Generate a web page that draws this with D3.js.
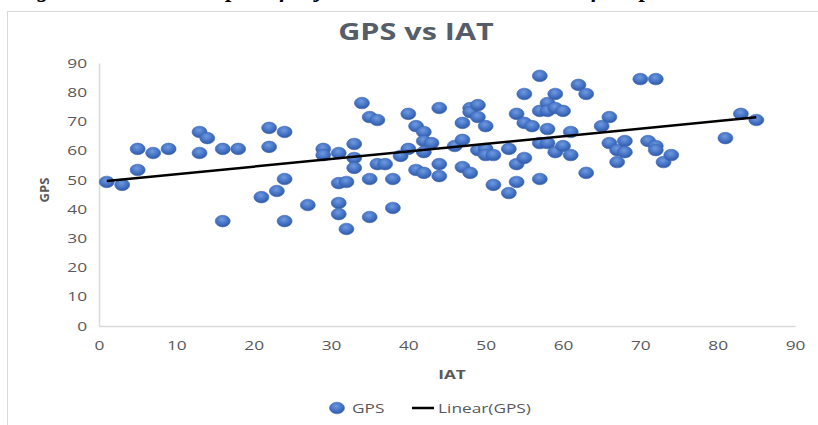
<!DOCTYPE html>
<html><head><meta charset="utf-8">
<script src="https://cdn.jsdelivr.net/npm/d3@7"></script>
<style>
html,body{margin:0;padding:0;background:#fff;overflow:hidden;}
svg{display:block;}
text{font-family:"Open Sans",sans-serif;}
</style></head>
<body><svg id="c" width="818" height="425"></svg>
<script>
const iat = [1,3,5,5,7,9,13,14,13,16,18,16,22,22,24,21,23,24,24,27,29,29,31,31,31,31,32,32,33,33,33,34,35,36,35,35,36,37,38,38,39,40,40,41,42,42,43,42,41,42,44,44,44,46,47,47,48,48,49,49,50,47,48,49,50,50,51,51,53,53,54,54,54,55,55,55,56,57,57,57,57,58,58,58,58,59,59,59,60,60,61,61,62,63,63,65,66,66,67,67,68,68,70,72,71,72,72,73,74,81,83,85];
const gps = [49.3,48.3,53.4,60.6,59.2,60.6,66.4,64.3,59.2,60.6,60.6,35.9,67.8,61.3,66.4,44.1,46.2,50.3,35.9,41.4,60.6,58.5,59.2,48.9,42.1,38.3,49.3,33.2,62.3,57.5,54.1,76.3,71.5,70.5,50.3,37.3,55.4,55.4,50.3,40.4,58.2,60.6,72.6,68.4,66.4,63.3,62.6,59.5,53.4,52.4,74.6,55.4,51.3,61.6,63.7,69.5,74.6,73.2,75.6,71.5,68.4,54.4,52.4,60.2,60.6,58.5,58.5,48.3,45.5,60.6,72.6,55.4,49.3,57.5,79.4,69.5,68.4,85.6,73.6,62.6,50.3,76.3,73.6,67.4,62.6,79.4,74.6,59.5,73.6,61.6,66.4,58.5,82.5,79.4,52.4,68.4,71.5,62.6,60.2,56.1,63.3,59.5,84.5,84.5,63.3,61.6,60.2,56.1,58.5,64.3,72.6,70.5];
const trendX = [1, 85];
const trendY = [49.6, 71.4];
const xTicks = [0,10,20,30,40,50,60,70,80,90];
const yTicks = [0,10,20,30,40,50,60,70,80,90];
const title = "GPS vs IAT";
const xLabel = "IAT";
const yLabel = "GPS";
const legendLabels = ["GPS", "Linear(GPS)"];
const caption = "Figure 4: The Scatter plot of objective GPS and IAT scores of the pilot trial";

const svg = d3.select("#c");
const SX = 1.33;
const grey = "#595959";

// caption (cut off at top, only descenders visible as in the reference)
svg.append("text").attr("x",16).attr("y",-3.5)
  .style("font-family","'Liberation Serif',serif").style("font-weight","bold").style("font-style","italic")
  .style("font-size","23px").attr("fill","#000").text(caption);

// chart frame
svg.append("rect").attr("x",7.5).attr("y",11.5).attr("width",900).attr("height",500)
  .attr("fill","#fff").attr("stroke","#d9d9d9").attr("stroke-width",1);

const x = d3.scaleLinear().domain([0,90]).range([99,795]);
const y = d3.scaleLinear().domain([0,90]).range([326,63]);

const defs = svg.append("defs");
const rg = defs.append("radialGradient").attr("id","mk").attr("cx","45%").attr("cy","35%").attr("r","65%");
rg.append("stop").attr("offset","0%").attr("stop-color","#6f9ae0");
rg.append("stop").attr("offset","60%").attr("stop-color","#4472c4");
rg.append("stop").attr("offset","100%").attr("stop-color","#2f58a3");

// axes
const gx = svg.append("g").attr("transform","translate(0,326)")
  .call(d3.axisBottom(x).tickValues(xTicks).tickSize(0).tickPadding(15));
const gy = svg.append("g").attr("transform","translate(99,0)")
  .call(d3.axisLeft(y).tickValues(yTicks).tickSize(0).tickPadding(9));
[gx,gy].forEach(g=>{
  g.select(".domain").attr("stroke","#d9d9d9").attr("stroke-width",1.5);
  g.selectAll("text").attr("fill",grey).style("font-size","13px").style("font-family","'Open Sans',sans-serif")
    .attr("transform","scale("+SX+",1)");
});
gx.selectAll(".tick text").attr("x",0);
gy.selectAll(".tick text").attr("x",-9);

// title
svg.append("text").attr("transform","translate(416,40) scale("+SX+",1)")
  .attr("text-anchor","middle").attr("fill","#555e68")
  .style("font-size","23px").style("font-weight","bold").text(title);

// axis titles
svg.append("text").attr("transform","translate(452,379) scale("+SX+",1)")
  .attr("text-anchor","middle").attr("fill",grey).style("font-size","13px").style("font-weight","bold").text(xLabel);
svg.append("text").attr("transform","translate(49,190) rotate(-90)")
  .attr("text-anchor","middle").attr("fill",grey).style("font-size","13px").style("font-weight","bold").text(yLabel);

// points
const pts = iat.map((v,i)=>({x:v,y:gps[i]}));
svg.append("g").selectAll("ellipse").data(pts).join("ellipse")
  .attr("cx",d=>x(d.x)).attr("cy",d=>y(d.y)).attr("rx",7.5).attr("ry",5.8)
  .attr("fill","url(#mk)").attr("stroke","#3c67b5").attr("stroke-width",0.6);

// trend line
const line = d3.line().x(d=>x(d[0])).y(d=>y(d[1]));
svg.append("path").datum(trendX.map((v,i)=>[v,trendY[i]])).attr("d",line)
  .attr("fill","none").attr("stroke","#000").attr("stroke-width",2.5);

// legend
const ly = 408;
svg.append("ellipse").attr("cx",337).attr("cy",ly).attr("rx",7.5).attr("ry",5.8).attr("fill","url(#mk)").attr("stroke","#3c67b5").attr("stroke-width",0.6);
svg.append("text").attr("transform","translate(352,"+(ly+4.5)+") scale("+SX+",1)").attr("fill",grey).style("font-size","13px").text(legendLabels[0]);
svg.append("line").attr("x1",412).attr("x2",434).attr("y1",ly).attr("y2",ly).attr("stroke","#000").attr("stroke-width",2.5);
svg.append("text").attr("transform","translate(438,"+(ly+4.5)+") scale("+SX+",1)").attr("fill",grey).style("font-size","13px").text(legendLabels[1]);
</script></body></html>
